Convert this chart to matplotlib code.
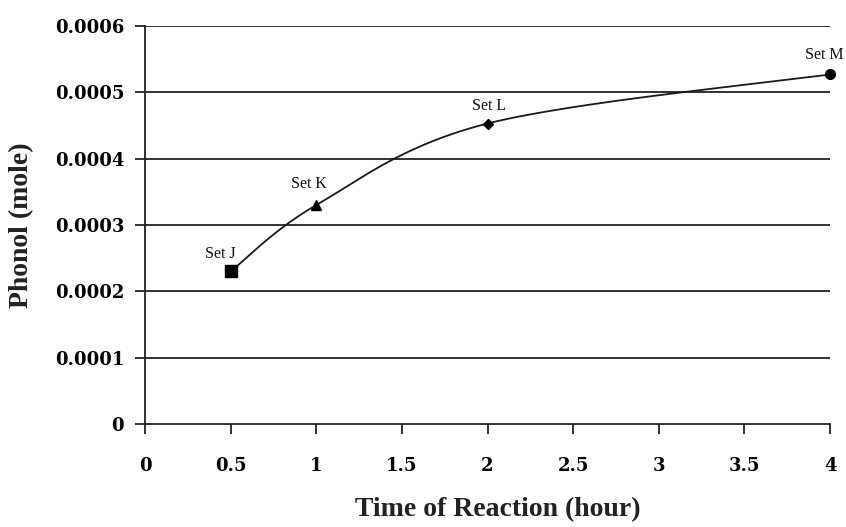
import numpy as np
import matplotlib
matplotlib.use("Agg")
import matplotlib.pyplot as plt

# data
times = [0.5, 1.0, 2.0, 4.0]
phonol = [0.000230, 0.000330, 0.000453, 0.000527]
set_labels = ["Set J", "Set K", "Set L", "Set M"]
markers = ["s", "^", "D", "o"]
xticks = [0, 0.5, 1, 1.5, 2, 2.5, 3, 3.5, 4]
xtick_labels = ["0", "0.5", "1", "1.5", "2", "2.5", "3", "3.5", "4"]
yticks = [0, 0.0001, 0.0002, 0.0003, 0.0004, 0.0005, 0.0006]
ytick_labels = ["0", "0.0001", "0.0002", "0.0003", "0.0004", "0.0005", "0.0006"]

fig = plt.figure(figsize=(8.46, 5.27), dpi=100)
ax = fig.add_axes([145/846, 1-424/527, (830-145)/846, (424-26)/527])

# smooth curve (Excel-style Bezier smoothing through the points)
P = np.column_stack([times, phonol])
ext = np.vstack([P[0], P, P[-1]])
curve = []
t = np.linspace(0, 1, 60)[:, None]
for i in range(len(P) - 1):
    p0 = ext[i + 1]; p3 = ext[i + 2]
    c1 = p0 + (ext[i + 2] - ext[i]) / 6
    c2 = p3 - (ext[i + 3] - ext[i + 1]) / 6
    seg = (1-t)**3*p0 + 3*(1-t)**2*t*c1 + 3*(1-t)*t**2*c2 + t**3*p3
    curve.append(seg)
curve = np.vstack(curve)
ax.plot(curve[:, 0], curve[:, 1], color="#1a1a1a", lw=1.3, zorder=3)

msizes = {"s": 8, "^": 7, "D": 5.5, "o": 7}
for x, y, m in zip(times, phonol, markers):
    ax.plot([x], [y], marker=m, color="black", ms=msizes[m], zorder=4, clip_on=False)

offsets = [(-10, 13), (-7, 17), (2, 14), (-6, 15)]
for x, y, lab, (dx, dy) in zip(times, phonol, set_labels, offsets):
    ax.annotate(lab, (x, y), xytext=(dx, dy), textcoords="offset pixels",
                ha="center", va="baseline", family="Liberation Serif",
                fontsize=11.5, color="#111111", annotation_clip=False)

ax.set_xlim(0, 4)
ax.set_ylim(0, 0.0006)
ax.set_xticks(xticks)
ax.set_xticklabels(xtick_labels)
ax.set_yticks(yticks)
ax.set_yticklabels(ytick_labels)
for lab in ax.get_xticklabels() + ax.get_yticklabels():
    lab.set_family("DejaVu Serif")
    lab.set_fontweight("bold")
    lab.set_fontsize(13)
ax.tick_params(axis="both", direction="out", length=7, width=1.3, color="#222222")
ax.tick_params(axis="x", pad=17)
ax.tick_params(axis="y", pad=8)

for yv in yticks[1:]:
    ax.axhline(yv, color="#222222", lw=1.3, zorder=1)
for s in ["top", "right"]:
    ax.spines[s].set_visible(False)
for s in ["left", "bottom"]:
    ax.spines[s].set_linewidth(1.3)
    ax.spines[s].set_color("#222222")

ax.set_xlabel("Time of Reaction (hour)", family="Liberation Serif", fontweight="bold",
              fontsize=20, color="#222222")
ax.set_ylabel("Phonol (mole)", family="Liberation Serif", fontweight="bold",
              fontsize=20, color="#222222")
ax.xaxis.set_label_coords((498-145)/685, -(510-424)/398)
ax.yaxis.set_label_coords(-(145-22)/685, 0.5)
ax.xaxis.label.set_va("center")
ax.yaxis.label.set_va("center")

fig.savefig("out.png", dpi=100)
